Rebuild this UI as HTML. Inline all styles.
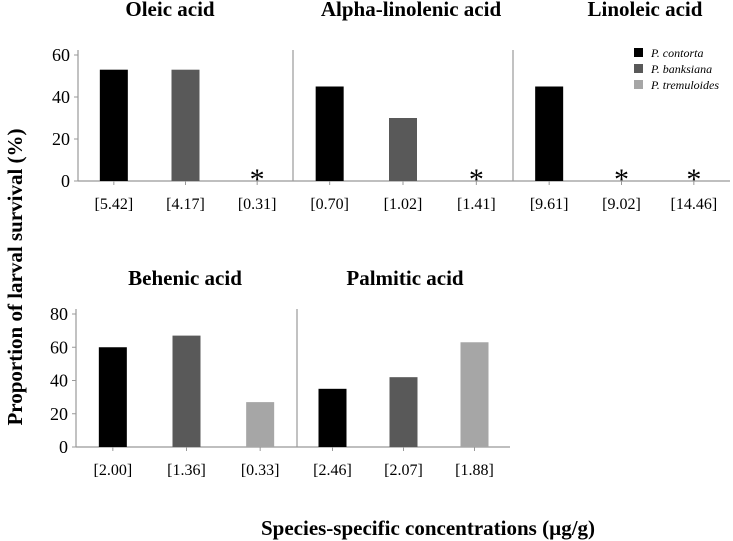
<!DOCTYPE html>
<html><head><meta charset="utf-8"><style>
body{margin:0;background:#fff}
svg{display:block}
svg text{font-family:"Liberation Serif",serif}
</style></head><body>
<svg id="c" width="733" height="541"></svg>
<script>
const panelTitles=["Oleic acid","Alpha-linolenic acid","Linoleic acid","Behenic acid","Palmitic acid"];
const species=["P. contorta","P. banksiana","P. tremuloides"];
const oleic=[53,53,0];
const alphaLinolenic=[45,30,0];
const linoleic=[45,0,0];
const behenic=[60,67,27];
const palmitic=[35,42,63];
const concOleic=["[5.42]","[4.17]","[0.31]"];
const concAlpha=["[0.70]","[1.02]","[1.41]"];
const concLinoleic=["[9.61]","[9.02]","[14.46]"];
const concBehenic=["[2.00]","[1.36]","[0.33]"];
const concPalmitic=["[2.46]","[2.07]","[1.88]"];
const topTicks=[0,20,40,60];
const bottomTicks=[0,20,40,60,80];
const colors=["#000000","#595959","#a6a6a6"];
const NS="http://www.w3.org/2000/svg";
const SERIF='"Liberation Serif", serif';
const svg=document.getElementById('c');
function mk(tag,attrs,parent){const e=document.createElementNS(NS,tag);for(const k in attrs)e.setAttribute(k,attrs[k]);(parent||svg).appendChild(e);return e;}
function panel(title,vals,conc,x0,x1,yTop,yBase,maxV,ticks,showAxis,titleX,titleY,key){
  const g=mk('g',{});
  
  
  const y=v=>yBase-(v/maxV)*(yBase-yTop);
  const w=x1-x0, step=w/3;
  const t=mk('text',{x:titleX,y:titleY,'text-anchor':'middle','font-size':21,'font-weight':'bold','font-family':SERIF},g);
  t.textContent=title;
  
  
  const ax=mk('line',{x1:x0,y1:yTop-5,x2:x0,y2:yBase,stroke:'#999','stroke-width':1.2},g);
  
  
  const bl=mk('line',{x1:x0,y1:yBase,x2:x1,y2:yBase,stroke:'#999','stroke-width':1.2},g);
  
  
  if(showAxis){
    ticks.forEach(tv=>{
      mk('line',{x1:x0-4,y1:y(tv),x2:x0,y2:y(tv),stroke:'#999'},g);
      const tl=mk('text',{x:x0-8,y:y(tv)+6,'text-anchor':'end','font-size':18,'font-family':SERIF},g);
      tl.textContent=tv;
      
      
    });
  }
  vals.forEach((v,i)=>{
    const cx=x0+step/2+i*step;
    mk('line',{x1:cx,y1:yBase,x2:cx,y2:yBase+4,stroke:'#999'},g);
    if(v>0){
      const r=mk('rect',{x:cx-14,y:y(v),width:28,height:yBase-y(v),fill:colors[i]},g);
      
      
    } else {
      const s=mk('text',{x:cx,y:yBase+8,'text-anchor':'middle','font-size':30,'font-family':SERIF},g);
      s.textContent='*';
      
      
    }
    const cl=mk('text',{x:cx,y:yBase+28,'text-anchor':'middle','font-size':16,'font-family':SERIF},g);
    cl.textContent=conc[i];
    
    
  });
}
panel(panelTitles[0],oleic,concOleic,78,293,55,181,60,topTicks,true,170,16,'oleic');
panel(panelTitles[1],alphaLinolenic,concAlpha,293,513,55,181,60,topTicks,false,411,16,'alpha-linolenic');
panel(panelTitles[2],linoleic,concLinoleic,513,730,55,181,60,topTicks,false,645,16,'linoleic');
panel(panelTitles[3],behenic,concBehenic,76,297,314,447,80,bottomTicks,true,185,285,'behenic');
panel(panelTitles[4],palmitic,concPalmitic,297,510,314,447,80,bottomTicks,false,405,285,'palmitic');
species.forEach((s,i)=>{
  const yy=53+i*16;
  const r=mk('rect',{x:634,y:yy-5,width:9,height:9,fill:colors[i]});
  
  
  const t=mk('text',{x:651,y:yy+4,'font-size':12,'font-style':'italic','font-family':SERIF});
  t.textContent=s;
  
  
});
const yt=mk('text',{x:0,y:0,'text-anchor':'middle','font-size':21,'font-weight':'bold','font-family':SERIF,transform:'translate(22,277) rotate(-90)'});
yt.textContent='Proportion of larval survival (%)';


const xt=mk('text',{x:428,y:535,'text-anchor':'middle','font-size':21,'font-weight':'bold','font-family':SERIF});
xt.textContent='Species-specific concentrations (\u00b5g/g)';


</script>
</body></html>
